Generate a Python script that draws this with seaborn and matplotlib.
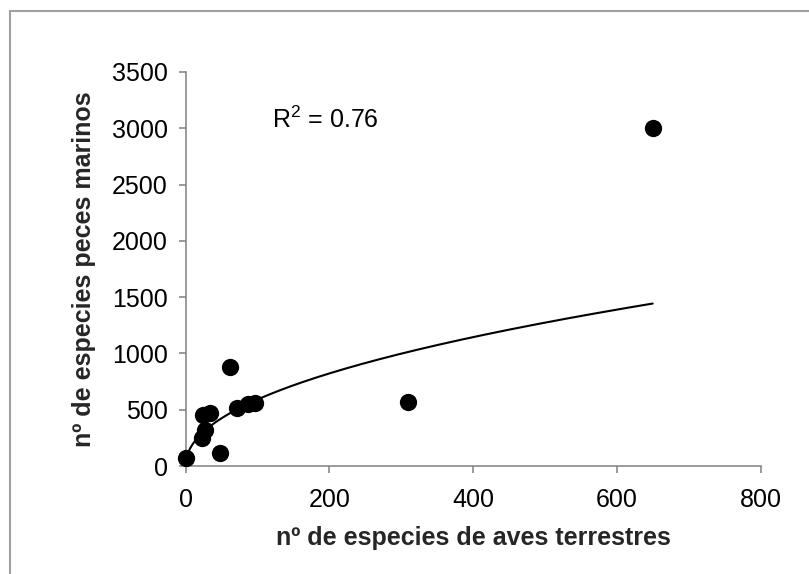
import numpy as np
import pandas as pd
import matplotlib
matplotlib.use("Agg")
import matplotlib.pyplot as plt
from matplotlib.patches import Rectangle
import seaborn as sns

# Number of land-bird species vs. number of marine fish species
aves_terrestres = [1, 22, 24, 27, 34, 48, 62, 72, 87, 96, 310, 650]
peces_marinos = [75, 246, 453, 320, 468, 118, 882, 512, 550, 562, 566, 3000]

# Power trend line y = a * x^b
trend_a = 65.7
trend_b = 0.477

x_ticks = [0, 200, 400, 600, 800]
y_ticks = [0, 500, 1000, 1500, 2000, 2500, 3000, 3500]
r2_label = "R$^{2}$ = 0.76"

df = pd.DataFrame({"aves": aves_terrestres, "peces": peces_marinos})
trend_x = np.linspace(df["aves"].min(), df["aves"].max(), 400)
trend = pd.DataFrame({"aves": trend_x, "peces": trend_a * trend_x ** trend_b})

sns.set_theme(style="ticks")
plt.rcParams["font.family"] = ["Liberation Sans", "DejaVu Sans"]
plt.rcParams["mathtext.default"] = "regular"

fig = plt.figure(figsize=(8.09, 5.74), dpi=100)
ax = fig.add_axes([185.7 / 809, 108 / 574, (760.5 - 185.7) / 809, (466 - 72) / 574])

sns.lineplot(data=trend, x="aves", y="peces", ax=ax, color="black", linewidth=1.5)
sns.scatterplot(data=df, x="aves", y="peces", ax=ax, color="black", s=155,
                edgecolor="black", linewidth=0, zorder=3, clip_on=False)

ax.set_xlim(0, 800)
ax.set_ylim(0, 3500)
ax.set_xticks(x_ticks)
ax.set_yticks(y_ticks)
ax.tick_params(axis="both", labelsize=18, length=5, width=1.1, color="#808080",
               labelcolor="black")
ax.tick_params(axis="y", pad=8)
ax.tick_params(axis="x", pad=11)
for side in ("top", "right"):
    ax.spines[side].set_visible(False)
for side in ("left", "bottom"):
    ax.spines[side].set_color("#808080")
    ax.spines[side].set_linewidth(1.1)

ax.set_xlabel("nº de especies de aves terrestres", fontsize=18, fontweight="bold", labelpad=10)
ax.set_ylabel("nº de especies peces marinos", fontsize=18, fontweight="bold", labelpad=11)

ax.text(120, 3000, r2_label, fontsize=18, color="black", va="baseline", ha="left")

# Chart-area frame
fig.patches.append(Rectangle((10 / 809, -0.1), 1.2, (574 - 11) / 574 + 0.1,
                             transform=fig.transFigure, fill=False,
                             edgecolor="#a0a0a0", linewidth=1.5))

fig.savefig("out.png", dpi=100)
